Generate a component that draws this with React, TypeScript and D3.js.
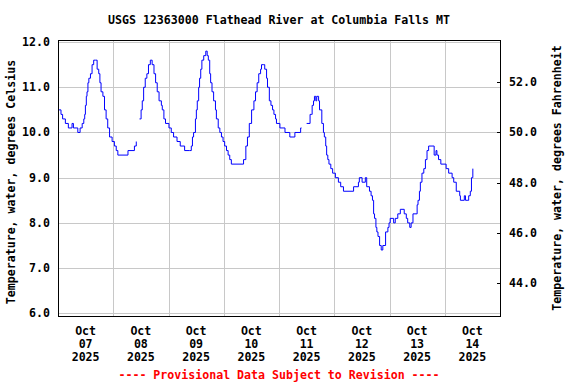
import React, { useRef, useEffect } from "react";
import * as d3 from "d3";

const WIDTH = 576;
const HEIGHT = 384;

const titleText = "USGS 12363000 Flathead River at Columbia Falls MT";
const leftAxisTitle = "Temperature, water, degrees Celsius";
const rightAxisTitle = "Temperature, water, degrees Fahrenheit";
const footerText = "---- Provisional Data Subject to Revision ----";

const startDate = new Date(2025, 9, 7);
const endDate = new Date(2025, 9, 15);

const dayLabels = ["07", "08", "09", "10", "11", "12", "13", "14"];
const celsiusTicks = [6, 7, 8, 9, 10, 11, 12];
const fahrenheitTicks = [44, 46, 48, 50, 52];

// hours since Oct 07 00:00, a null temperature marks a gap in the record
const hoursSinceStart = [
  0, 1.3, 2, 3.2, 4.5, 6.1, 6.7, 8.6, 9.6, 10.5, 11.2, 11.6, 11.9, 12.3, 12.6,
  13, 13.4, 14.1, 14.8, 15.5, 16.3, 17, 17.7, 18.2, 18.7, 19.5, 20.2, 20.9,
  21.6, 22.4, 23.5, 24.5, 25.3, 26, 30.4, 33.2, 34, 34.7,
  35.4, 36.1, 36.6, 37.2, 37.9, 38.6, 39.3, 40.1, 40.9, 41.7, 42.4, 43.1, 43.9,
  44.9, 45.3, 46, 46.7, 48.2, 49.2, 50.2, 51.7, 53.1, 55, 57.2, 57.9, 58.4,
  58.9, 59.7, 60.1, 60.5, 61.1, 61.5, 62, 62.5, 63.3, 64.2, 64.8, 65.3, 65.9,
  66.3, 66.9, 67.6, 68.4, 68.8, 69.6, 70.3, 71, 71.7, 72.4, 73.2, 73.9, 74.6,
  75.3, 80.6, 81.6, 82.3, 83.1, 84.1, 85.1, 85.8, 86.5, 87.2, 88, 88.4, 89.4,
  89.8, 90.6, 91, 91.8, 92.5, 93.2, 93.8, 94.5, 94.9, 96.4, 98.6, 100.7, 102.9,
  105.4, 105.8, 107,
  108, 109.5, 110, 110.4, 111, 111.4, 112, 112.4, 113.2, 113.6, 114.6, 115.3,
  115.7, 116.3, 116.7, 117.2, 117.7, 118.5, 119.3, 120.5, 121.8, 122.8, 124,
  128.4, 130.5, 130.9, 132.1, 133.5, 134.1, 135.3, 136, 136.6, 137.1, 137.5,
  138.1, 138.5, 139, 139.7, 140.4, 141.1, 142.3, 143.3, 143.8, 144.3, 145.1,
  145.8, 146.5, 147.6, 148.7, 150.4, 151.3, 151.9, 152.8, 153.4, 154.2, 156,
  156.4, 157, 157.4, 158.1, 158.9, 159.6, 160.3, 161, 162.9, 163.4, 164.2,
  164.6, 165.3, 166.3, 168.6, 169.7, 171.2, 171.9, 173, 174.5, 174.8, 176.5,
  177, 177.7, 178.4, 179.1, 179.6, 180.2,
];

const waterTempC = [
  10.5, 10.4, 10.3, 10.2, 10.1, 10.2, 10.1, 10.0, 10.1, 10.2, 10.3, 10.4, 10.6,
  10.8, 10.9, 11.1, 11.2, 11.3, 11.5, 11.6, 11.6, 11.4, 11.3, 11.1, 10.9, 10.8,
  10.5, 10.3, 10.1, 9.9, 9.8, 9.7, 9.6, 9.5, 9.6, 9.7, 9.8, null,
  10.3, 10.5, 10.7, 11.0, 11.2, 11.3, 11.5, 11.6, 11.5, 11.3, 11.1, 10.9, 10.7,
  10.6, 10.5, 10.3, 10.2, 10.1, 10.0, 9.9, 9.8, 9.7, 9.6, 9.6, 9.7, 9.9, 10.0,
  10.3, 10.5, 10.7, 11.0, 11.2, 11.4, 11.6, 11.7, 11.8, 11.7, 11.6, 11.3, 11.1,
  10.9, 10.7, 10.5, 10.3, 10.1, 10.0, 9.9, 9.8, 9.7, 9.6, 9.5, 9.4, 9.3, 9.4,
  9.7, 9.9, 10.2, 10.5, 10.7, 10.9, 11.1, 11.3, 11.4, 11.5, 11.5, 11.4, 11.2,
  11.0, 10.7, 10.6, 10.5, 10.4, 10.3, 10.2, 10.1, 10.0, 9.9, 10.0, 10.1, 10.1,
  null,
  10.2, 10.4, 10.4, 10.6, 10.7, 10.8, 10.7, 10.8, 10.7, 10.5, 10.2, 10.0, 9.9,
  9.7, 9.5, 9.4, 9.3, 9.2, 9.1, 9.0, 8.9, 8.8, 8.7, 8.8, 8.9, 9.0, 8.9, 9.0,
  8.8, 8.7, 8.6, 8.5, 8.2, 8.1, 7.9, 7.8, 7.7, 7.5, 7.4, 7.5, 7.8, 7.9, 8.0,
  8.1, 8.1, 8.0, 8.1, 8.2, 8.3, 8.2, 8.1, 8.0, 7.9, 8.0, 8.2, 8.4, 8.5, 8.7,
  8.9, 9.1, 9.2, 9.4, 9.6, 9.7, 9.7, 9.5, 9.6, 9.5, 9.4, 9.3, 9.2, 9.1, 9.0,
  8.9, 8.7, 8.6, 8.5, 8.6, 8.5, 8.5, 8.6, 8.7, 9.0, 9.2,
];

const FONT = "'DejaVu Sans Mono', monospace";

function App() {
  const svgRef = useRef<SVGSVGElement | null>(null);

  useEffect(() => {
    const svg = d3.select(svgRef.current);
    svg.selectAll("*").remove();

    const left = 58;
    const right = 500;
    const top = 40;
    const bottom = 316;

    const xScale = d3.scaleTime().domain([startDate, endDate]).range([left, right]);
    const yScale = d3.scaleLinear().domain([5.94, 12.046]).range([bottom, top]);
    // same range, Fahrenheit
    const yScaleF = d3
      .scaleLinear()
      .domain([5.94 * 1.8 + 32, 12.046 * 1.8 + 32])
      .range([bottom, top]);

    const snap = (v: number) => Math.round(v) + 0.5;

    svg
      .append("rect")
      .attr("width", WIDTH)
      .attr("height", HEIGHT)
      .attr("fill", "white");

    // grid
    const grid = svg.append("g").attr("stroke", "#c8c8c8").attr("stroke-width", 1);
    celsiusTicks.forEach((t) => {
      grid
        .append("line")
        .attr("x1", left)
        .attr("x2", right)
        .attr("y1", snap(yScale(t)))
        .attr("y2", snap(yScale(t)));
    });
    const days = d3.timeDay.range(d3.timeDay.offset(startDate, 1), endDate);
    days.forEach((d) => {
      grid
        .append("line")
        .attr("x1", snap(xScale(d)))
        .attr("x2", snap(xScale(d)))
        .attr("y1", top)
        .attr("y2", bottom);
    });

    // data line
    const points = hoursSinceStart.map((h, i) => ({
      date: new Date(startDate.getTime() + h * 3600 * 1000),
      value: waterTempC[i],
    }));
    const line = d3
      .line<{ date: Date; value: number | null }>()
      .defined((d) => d.value !== null)
      .x((d) => xScale(d.date))
      .y((d) => yScale(d.value as number))
      .curve(d3.curveStepAfter);
    svg
      .append("path")
      .datum(points)
      .attr("fill", "none")
      .attr("stroke", "#0000ff")
      .attr("stroke-width", 1)
      .attr("d", line);

    // frame
    svg
      .append("rect")
      .attr("x", left + 0.5)
      .attr("y", top + 0.5)
      .attr("width", right - left)
      .attr("height", bottom - top)
      .attr("fill", "none")
      .attr("stroke", "black")
      .attr("stroke-width", 1);

    // right axis ticks (inside)
    fahrenheitTicks.forEach((t) => {
      svg
        .append("line")
        .attr("x1", right - 3)
        .attr("x2", right)
        .attr("y1", snap(yScaleF(t)))
        .attr("y2", snap(yScaleF(t)))
        .attr("stroke", "black");
    });

    const text = (x: number, y: number, s: string, anchor = "middle") =>
      svg
        .append("text")
        .attr("x", x)
        .attr("y", y)
        .attr("text-anchor", anchor)
        .style("font-family", FONT)
        .style("font-weight", "bold")
        .style("font-size", "11.6px")
        .text(s);

    text((left + right) / 2, 24, titleText);

    celsiusTicks.forEach((t) => {
      text(50, yScale(t) + 4, t.toFixed(1), "end");
    });
    fahrenheitTicks.forEach((t) => {
      text(509, yScaleF(t) + 4, t.toFixed(1), "start");
    });

    dayLabels.forEach((lab, i) => {
      const noon = new Date(2025, 9, 7 + i, 12);
      const x = xScale(noon);
      text(x, 334.5, "Oct");
      text(x, 347.5, lab);
      text(x, 360.5, "2025");
    });

    text((left + right) / 2, 379, footerText).attr("fill", "red");

    text(0, 0, leftAxisTitle).attr("transform", `translate(15,182) rotate(-90)`);
    text(0, 0, rightAxisTitle).attr("transform", `translate(561,178) rotate(-90)`);
  }, []);

  return (
    <svg
      ref={svgRef}
      width={WIDTH}
      height={HEIGHT}
      style={{ position: "absolute", left: 0, top: 0 }}
    ></svg>
  );
}

export default App;
